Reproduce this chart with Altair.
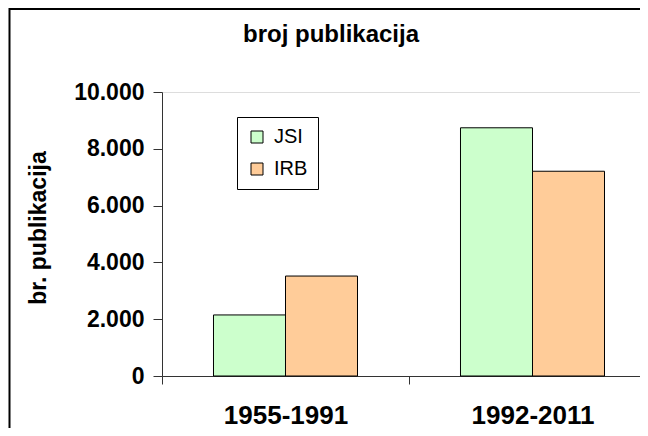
import altair as alt
import pandas as pd

periods = ["1955-1991", "1992-2011"]
institutes = ["JSI", "IRB"]
jsi_values = [2150, 8740]
irb_values = [3520, 7210]
colors = ["#CCFFCC", "#FFCC99"]
y_ticks = [0, 2000, 4000, 6000, 8000, 10000]

rows = []
for i, p in enumerate(periods):
    rows.append({"period": p, "inst": "JSI", "value": jsi_values[i]})
    rows.append({"period": p, "inst": "IRB", "value": irb_values[i]})
df = pd.DataFrame(rows)

FONT = "Liberation Sans"

bars = alt.Chart(df).mark_bar(stroke="black", strokeWidth=1).encode(
    x=alt.X(
        "period:N",
        sort=periods,
        scale=alt.Scale(range=[0, 494], paddingInner=0, paddingOuter=0),
        axis=alt.Axis(
            title=None,
            labelAngle=0,
            tickBand="extent",
            tickSize=8,
            tickColor="#333",
            domainColor="#333",
            labelFont=FONT,
            labelFontWeight="bold",
            labelFontSize=26,
            labelColor="black",
            labelBaseline="middle",
            labelPadding=31,
            grid=False,
        ),
    ),
    xOffset=alt.XOffset(
        "inst:N",
        sort=institutes,
        scale=alt.Scale(paddingOuter=0.715, paddingInner=0),
    ),
    y=alt.Y(
        "value:Q",
        scale=alt.Scale(domain=[0, 10000], nice=False),
        axis=alt.Axis(
            values=y_ticks,
            labelExpr="replace(format(datum.value, ','), ',', '.')",
            title="br. publikacija",
            titleFont=FONT,
            titleFontWeight="bold",
            titleFontSize=23,
            titleColor="black",
            titleX=-117,
            titleY=135.5,
            titleAngle=270,
            titleAlign="center",
            titleBaseline="alphabetic",
            tickSize=9,
            tickColor="#333",
            domainColor="#333",
            labelFont=FONT,
            labelFontWeight="bold",
            labelFontSize=23,
            labelColor="black",
            labelPadding=9,
            grid=False,
        ),
    ),
    color=alt.Color(
        "inst:N",
        sort=institutes,
        scale=alt.Scale(domain=institutes, range=colors),
        legend=alt.Legend(
            title=None,
            orient="none",
            legendX=75,
            legendY=25,
            strokeColor="black",
            fillColor="white",
            padding=10,
            symbolType="square",
            symbolSize=144,
            symbolStrokeColor="black",
            symbolStrokeWidth=1,
            labelFont=FONT,
            labelFontSize=20,
            labelColor="black",
            labelOffset=7,
            rowPadding=12,
        ),
    ),
)

frame_data = alt.Data(values=[{"k": 1}])
top_line = alt.Chart(frame_data).mark_rule(color="black", strokeWidth=2).encode(
    x=alt.value(-153), x2=alt.value(478), y=alt.value(-83)
)
left_line = alt.Chart(frame_data).mark_rule(color="black", strokeWidth=2).encode(
    x=alt.value(-152.5), y=alt.value(-84), y2=alt.value(336)
)

chart = alt.layer(bars, top_line, left_line).properties(
    width=478,
    height=284,
    padding={"left": 154, "top": 84, "right": 0, "bottom": 52},
    autosize=alt.AutoSizeParams(type="none"),
    title=alt.TitleParams(
        text="broj publikacija",
        font=FONT,
        fontWeight="bold",
        fontSize=24,
        color="black",
        anchor="middle",
        frame="group",
        dx=-70,
        dy=59,
        baseline="alphabetic",
        offset=0,
    ),
).configure_view(stroke=None).configure(background="white")

chart.save("out.html", embed_options={"renderer": "svg", "actions": False})
